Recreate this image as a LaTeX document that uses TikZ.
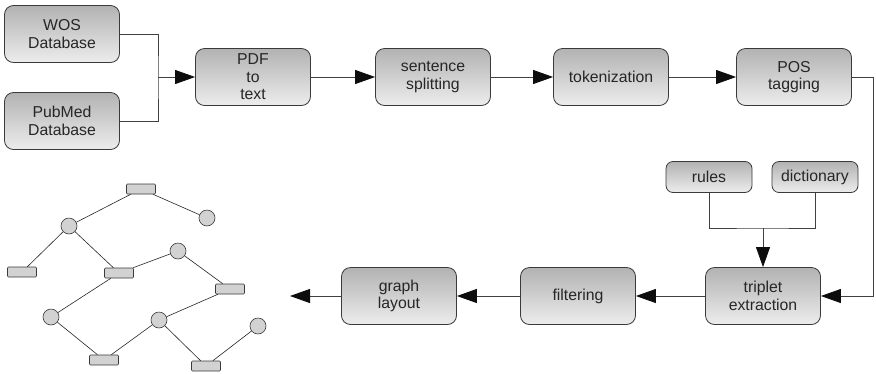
\documentclass[tikz,border=0pt]{standalone}
\usepackage{fontspec}
\setmainfont{Liberation Sans}
\usetikzlibrary{arrows.meta}

\definecolor{boxtop}{HTML}{B2B2B2}
\definecolor{boxbot}{HTML}{EDEDED}
\definecolor{edgegray}{HTML}{3A3A3A}
\definecolor{nodegray}{HTML}{D2D2D2}

\tikzset{
  stage/.style={draw=edgegray, line width=0.8pt, rounded corners=9pt,
    top color=boxtop, bottom color=boxbot, minimum width=115pt,
    minimum height=57pt, align=center, inner sep=0pt, text=black!85,
    font=\fontsize{15.8}{17.5}\selectfont},
  source/.style={stage, minimum width=86pt, minimum height=31pt, rounded corners=7pt},
  flow/.style={line width=0.9pt, draw=black!75},
  gnode/.style={circle, draw=edgegray, fill=nodegray, line width=0.6pt,
    minimum size=16pt, inner sep=0pt},
  gbar/.style={draw=edgegray, fill=nodegray, line width=0.6pt, rounded corners=1pt,
    minimum width=29pt, minimum height=10pt, inner sep=0pt},
  gedge/.style={line width=0.6pt, draw=black!85}
}

\begin{document}
\begin{tikzpicture}[x=1pt, y=-1pt, >={Triangle[length=20pt,width=14pt,color=black!95]}]
  \useasboundingbox[fill=white] (0,0) rectangle (876,373);

  % input and pipeline
  \node[stage] (wos) at (62,34) {WOS\\Database};
  \node[stage] (pubmed) at (62,121) {PubMed\\Database};
  \node[stage] (pdf) at (253,77) {PDF\\to\\text};
  \node[stage] (split) at (433,77) {sentence\\splitting};
  \node[stage] (token) at (611,77) {tokenization};
  \node[stage] (pos) at (794,77) {POS\\tagging};
  \node[source] (rules) at (709,177) {rules};
  \node[source] (dict) at (815,177) {dictionary};
  \node[stage] (triplet) at (763,296) {triplet\\extraction};
  \node[stage] (filter) at (578,296) {filtering};
  \node[stage] (layout) at (399,296) {graph\\layout};

  \coordinate (join) at (158,77);
  \coordinate (merge) at (763,228);
  \coordinate (turn) at (873,77);
  \coordinate (out) at (290,296);

  \draw[flow] (wos.east) -| (join) |- (pubmed.east);
  \draw[flow,->] (join) -- (pdf);
  \draw[flow,->] (pdf) -- (split);
  \draw[flow,->] (split) -- (token);
  \draw[flow,->] (token) -- (pos);
  \draw[flow,->] (pos.east) -- (turn) |- (triplet.east);
  \draw[flow] (rules.south) |- (merge) -| (dict.south);
  \draw[flow,->] (merge) -- (triplet);
  \draw[flow,->] (triplet) -- (filter);
  \draw[flow,->] (filter) -- (layout);
  \draw[flow,->] (layout) -- (out);

  % the resulting graph
  \foreach \n/\x/\y in {r1/141/189, r2/22/272, r3/119/273, r4/230/289, r5/104/360, r6/206/366}
    \node[gbar] (\n) at (\x,\y) {};
  \foreach \n/\x/\y in {c1/69/226, c2/207/218, c3/178/251, c4/51/317, c5/159/320, c6/258/326}
    \node[gnode] (\n) at (\x,\y) {};
  \foreach \a/\b in {r2/c1, c1/r1, r1/c2, c1/r3, r3/c3, c3/r4, r3/c4, c4/r5, r5/c5, c5/r4, c5/r6, r6/c6}
    \draw[gedge] (\a) -- (\b);
\end{tikzpicture}
\end{document}
